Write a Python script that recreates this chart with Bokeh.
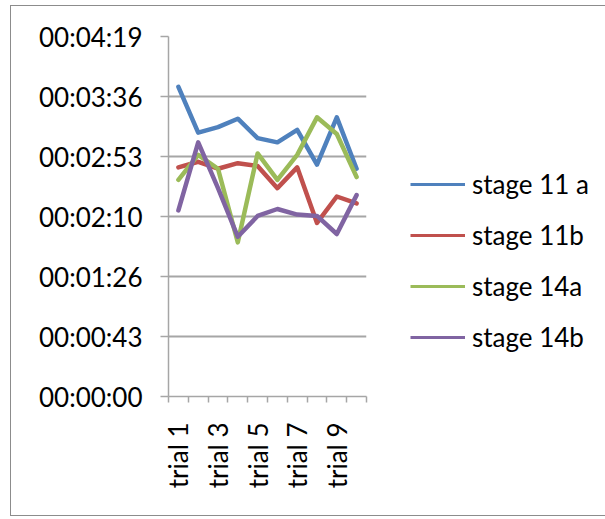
import math
from bokeh.plotting import figure
from bokeh.models import FixedTicker, Legend, LegendItem, Range1d, ColumnDataSource
from bokeh.embed import file_html
from bokeh.resources import INLINE

# ---- data (times in seconds) ----
trials = ["trial 1", "trial 2", "trial 3", "trial 4", "trial 5",
          "trial 6", "trial 7", "trial 8", "trial 9", "trial 10"]
stage_11a = [223, 190, 194, 200, 186, 183, 192, 167, 201, 164]
stage_11b = [165, 169, 164, 168, 166, 150, 165, 125, 144, 139]
stage_14a = [156, 174, 164, 111, 175, 156, 174, 201, 189, 158]
stage_14b = [134, 183, 150, 115, 130, 135, 131, 130, 117, 145]

series_names = ["stage 11 a", "stage 11b", "stage 14a", "stage 14b"]
series_values = [stage_11a, stage_11b, stage_14a, stage_14b]
colors = ["#4F81BD", "#C0504D", "#9BBB59", "#8064A2"]

y_ticks = [0, 43.2, 86.4, 129.6, 172.8, 216.0, 259.2]
y_tick_labels = ["00:00:00", "00:00:43", "00:01:26", "00:02:10",
                 "00:02:53", "00:03:36", "00:04:19"]

FONT = "Lato"
FS = "26px"
GRID = "#a6a6a6"

x_pos = list(range(1, len(trials) + 1))

p = figure(frame_width=198, frame_height=360,
           min_border_left=157, min_border_right=236,
           min_border_top=30, min_border_bottom=119,
           x_range=Range1d(0.5, len(trials) + 0.5),
           y_range=Range1d(y_ticks[0], y_ticks[-1]),
           output_backend="svg", toolbar_location=None)
p.outline_line_color = None
p.background_fill_color = "white"
p.border_fill_color = "white"
p.styles = {"margin-left": "10px", "margin-top": "5px",
            "border-left": "1px solid #8c8c8c",
            "border-top": "1px solid #8c8c8c",
            "border-bottom": "1px solid #8c8c8c"}

for name, vals, col in zip(series_names, series_values, colors):
    src = ColumnDataSource(dict(x=x_pos, y=vals))
    p.line("x", "y", source=src, line_color=col, line_width=4.5,
           line_join="round", line_cap="round")

# legend glyphs (thinner, like the reference); placeholder renderers draw nothing
items = []
for name, col in zip(series_names, colors):
    r = p.line(x=[float("nan")], y=[float("nan")], line_color=col, line_width=3)
    items.append(LegendItem(label=name, renderers=[r]))

legend = Legend(items=items, location=(44, 43), padding=0, margin=0,
                border_line_color=None, background_fill_alpha=0,
                glyph_width=55, glyph_height=30, label_height=30,
                label_standoff=7, spacing=19,
                label_text_font=FONT, label_text_font_size=FS,
                label_text_color="black")
p.add_layout(legend, "right")

# y axis
p.yaxis.ticker = FixedTicker(ticks=y_ticks)
p.yaxis.major_label_overrides = {t: l for t, l in zip(y_ticks, y_tick_labels)}
p.yaxis.major_tick_out = 8
p.yaxis.major_tick_in = 0
p.yaxis.minor_tick_out = 0
p.yaxis.minor_tick_in = 0
p.yaxis.major_label_standoff = 18
p.yaxis.axis_line_color = GRID
p.yaxis.axis_line_width = 1.5
p.yaxis.major_tick_line_color = GRID
p.yaxis.major_tick_line_width = 1.5
p.yaxis.major_label_text_font = FONT
p.yaxis.major_label_text_font_size = FS
p.yaxis.major_label_text_color = "black"

# x axis: labels on every other category, tick marks between categories
x_bounds = [i + 0.5 for i in range(len(trials) + 1)]
label_pos = x_pos[0::2]
p.xaxis.ticker = FixedTicker(ticks=label_pos, minor_ticks=x_bounds)
p.xaxis.major_label_overrides = {x_pos[i]: trials[i] for i in range(0, len(trials), 2)}
p.xaxis.major_label_orientation = math.pi / 2
p.xaxis.major_tick_out = 0
p.xaxis.major_tick_in = 0
p.xaxis.minor_tick_out = 6
p.xaxis.minor_tick_in = 0
p.xaxis.minor_tick_line_color = GRID
p.xaxis.minor_tick_line_width = 1.5
p.xaxis.major_label_standoff = 20
p.xaxis.axis_line_color = GRID
p.xaxis.axis_line_width = 1.5
p.xaxis.major_label_text_font = FONT
p.xaxis.major_label_text_font_size = FS
p.xaxis.major_label_text_color = "black"

p.xgrid.visible = False
p.ygrid.ticker = FixedTicker(ticks=y_ticks)
p.ygrid.grid_line_color = GRID
p.ygrid.grid_line_width = 2

open("out.html", "w").write(file_html(p, INLINE))
